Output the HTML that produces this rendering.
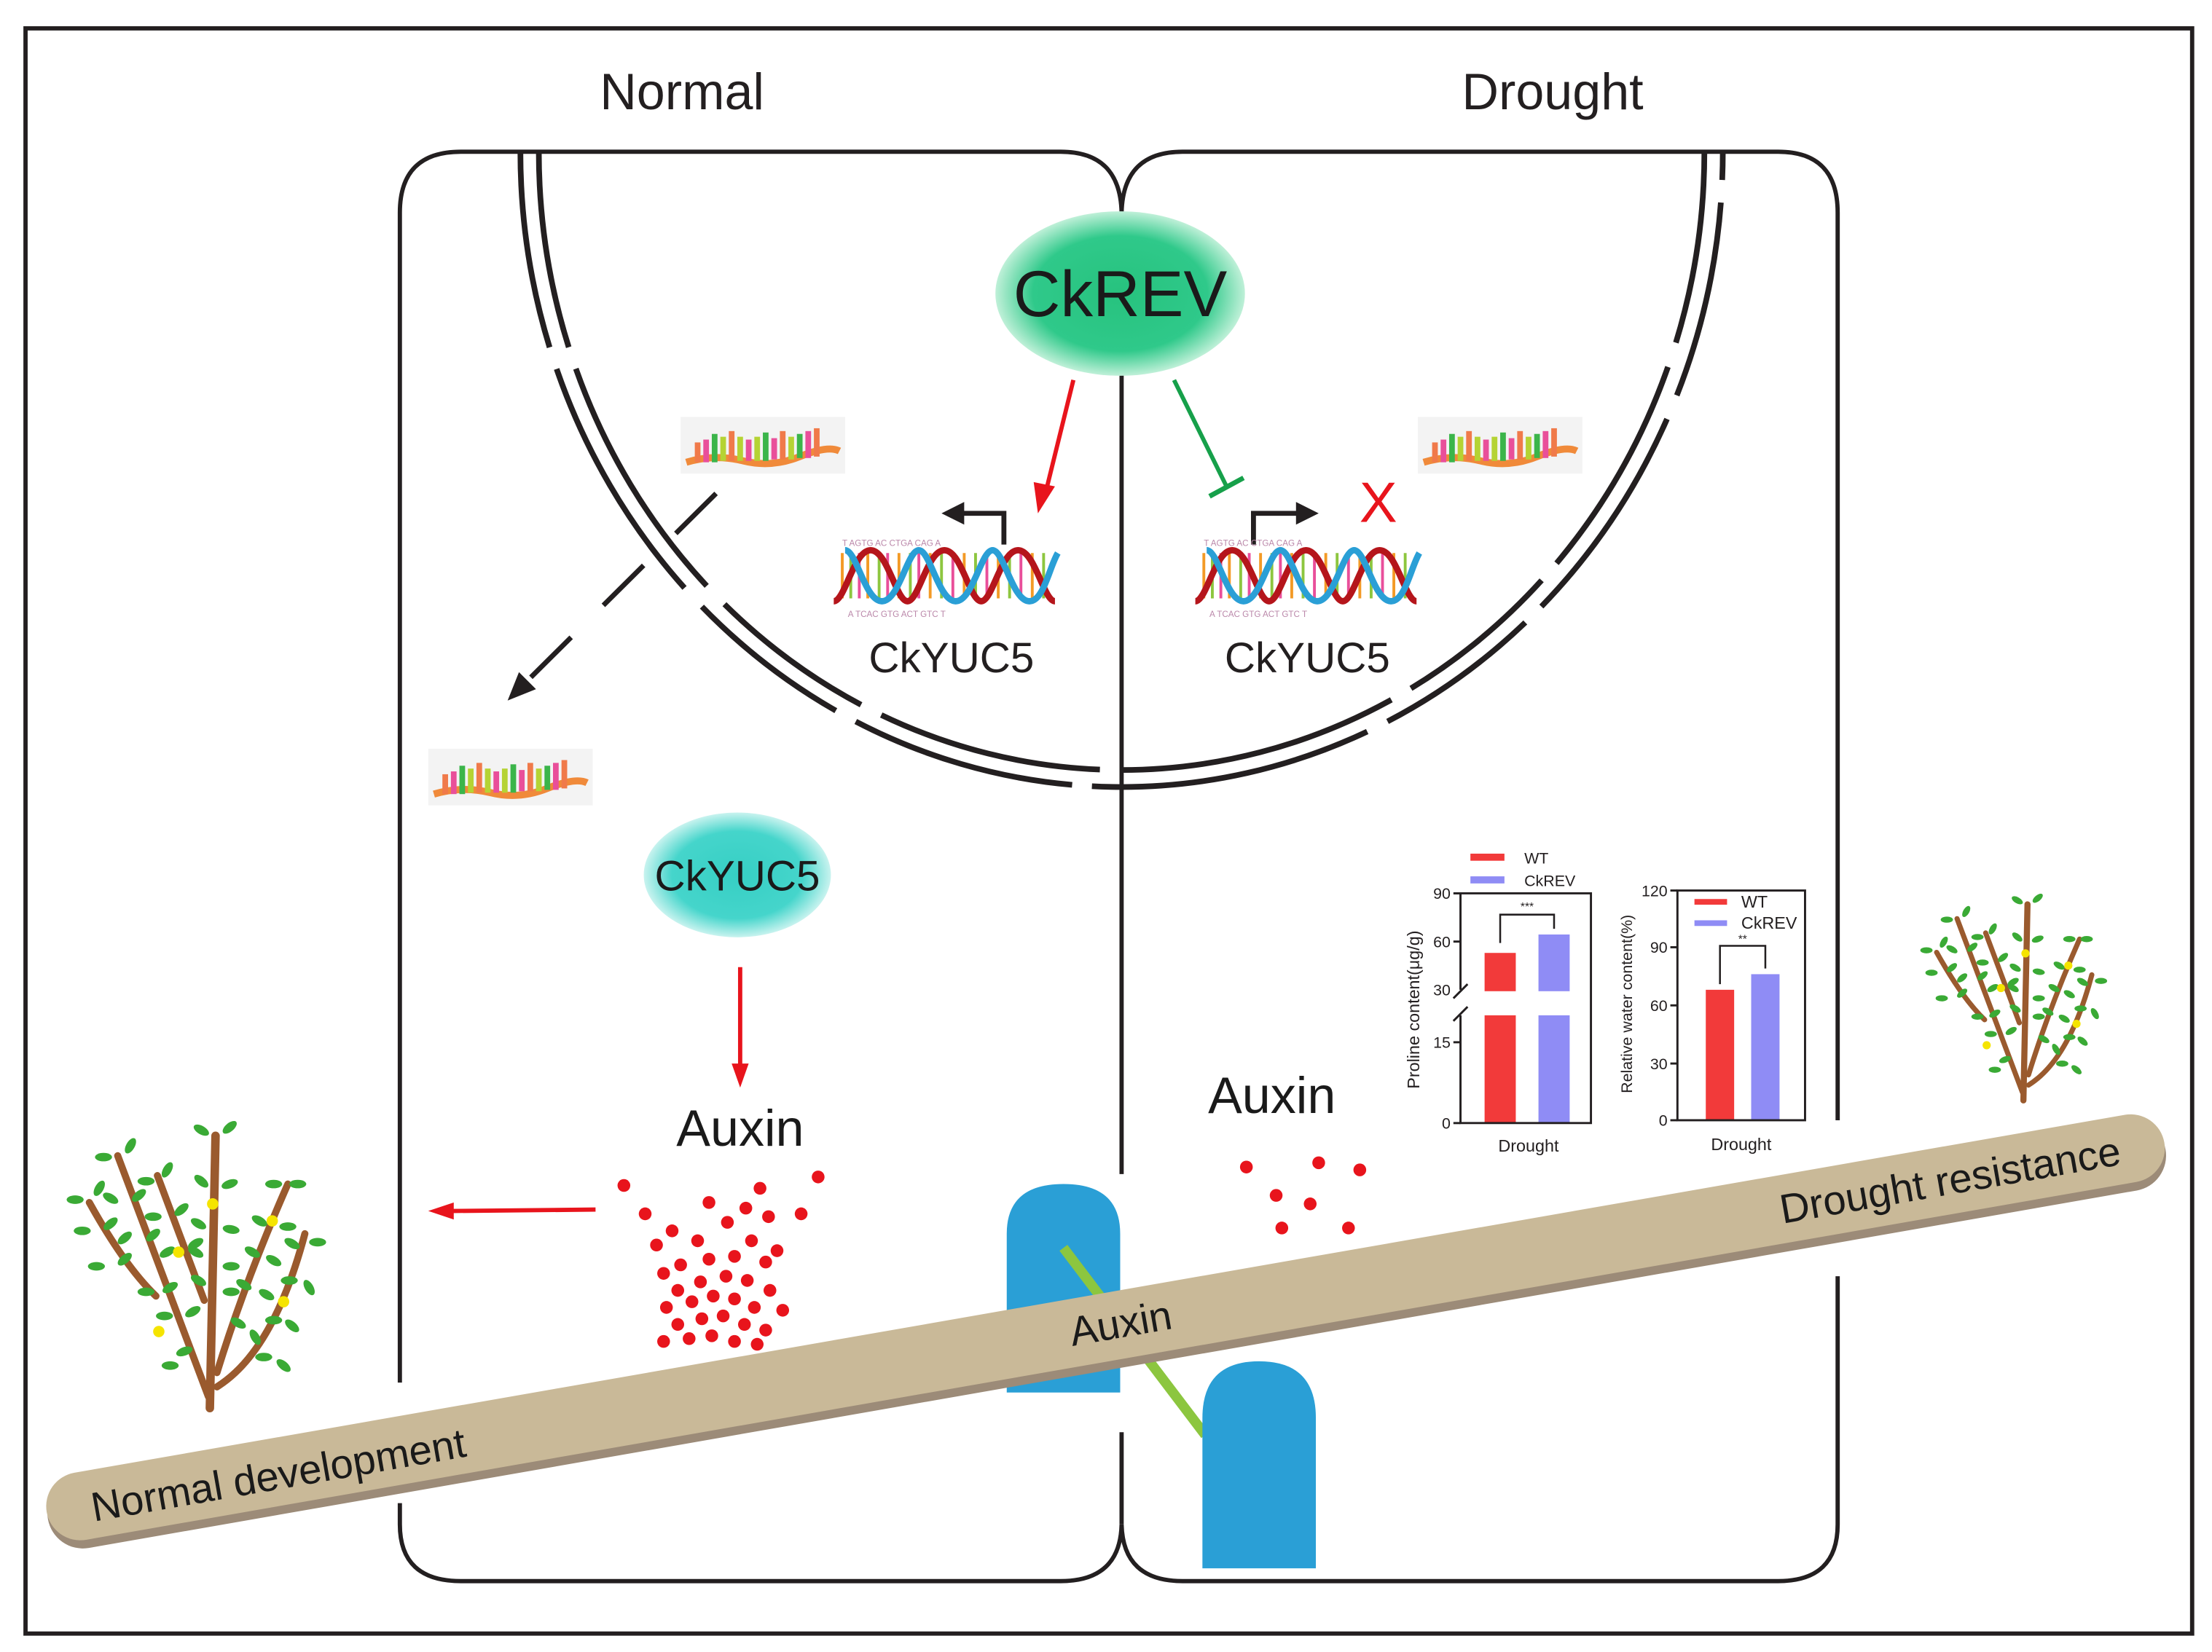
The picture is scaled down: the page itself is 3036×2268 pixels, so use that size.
<!DOCTYPE html>
<html><head><meta charset="utf-8"><style>
html,body{margin:0;padding:0;background:#fff;}
svg{display:block;}
text{font-family:"Liberation Sans",Arial,sans-serif;}
</style></head><body>
<svg width="3036" height="2268" viewBox="0 0 1560 1165" preserveAspectRatio="none" xmlns="http://www.w3.org/2000/svg">
<defs>
<radialGradient id="gREV" cx="50%" cy="50%" r="50%">
<stop offset="0%" stop-color="#27c27e"/><stop offset="70%" stop-color="#2fc98a"/><stop offset="100%" stop-color="#bff0d8"/>
</radialGradient>
<radialGradient id="gYUC" cx="50%" cy="50%" r="50%">
<stop offset="0%" stop-color="#36cfc4"/><stop offset="70%" stop-color="#45d5cb"/><stop offset="100%" stop-color="#c8f3ef"/>
</radialGradient>
<g id="mrna">
<rect x="-4" y="-6" width="116" height="40" fill="#f3f3f3"/>
<path d="M0,26 Q20,20 40,25 T80,22 T108,18" stroke="#f08a3a" stroke-width="5" fill="none"/>
<rect x="6" y="12" width="4" height="14" fill="#f07a4a"/><rect x="12" y="10" width="4" height="16" fill="#e94f9a"/>
<rect x="18" y="6" width="4" height="20" fill="#3bb54a"/><rect x="24" y="8" width="4" height="17" fill="#b5d334"/>
<rect x="30" y="4" width="4" height="21" fill="#f07a4a"/><rect x="36" y="8" width="4" height="17" fill="#b5d334"/>
<rect x="42" y="10" width="4" height="15" fill="#e94f9a"/><rect x="48" y="8" width="4" height="17" fill="#b5d334"/>
<rect x="54" y="5" width="4" height="20" fill="#3bb54a"/><rect x="60" y="9" width="4" height="15" fill="#e94f9a"/>
<rect x="66" y="4" width="4" height="20" fill="#f07a4a"/><rect x="72" y="8" width="4" height="16" fill="#b5d334"/>
<rect x="78" y="6" width="4" height="17" fill="#3bb54a"/><rect x="84" y="4" width="4" height="19" fill="#e94f9a"/>
<rect x="90" y="2" width="4" height="20" fill="#f07a4a"/>
</g>
<g id="dna">
<g stroke-width="2">
<line x1="6" y1="10" x2="6" y2="42" stroke="#f39a26"/><line x1="12" y1="10" x2="12" y2="42" stroke="#8dc63f"/>
<line x1="18" y1="10" x2="18" y2="42" stroke="#e94f9a"/><line x1="24" y1="10" x2="24" y2="42" stroke="#f39a26"/>
<line x1="32" y1="10" x2="32" y2="42" stroke="#8dc63f"/><line x1="38" y1="10" x2="38" y2="42" stroke="#e94f9a"/>
<line x1="46" y1="10" x2="46" y2="42" stroke="#f39a26"/><line x1="54" y1="10" x2="54" y2="42" stroke="#8dc63f"/>
<line x1="60" y1="10" x2="60" y2="42" stroke="#e94f9a"/><line x1="68" y1="10" x2="68" y2="42" stroke="#f39a26"/>
<line x1="76" y1="10" x2="76" y2="42" stroke="#8dc63f"/><line x1="84" y1="10" x2="84" y2="42" stroke="#e94f9a"/>
<line x1="92" y1="10" x2="92" y2="42" stroke="#f39a26"/><line x1="100" y1="10" x2="100" y2="42" stroke="#8dc63f"/>
<line x1="108" y1="10" x2="108" y2="42" stroke="#e94f9a"/><line x1="116" y1="10" x2="116" y2="42" stroke="#f39a26"/>
<line x1="124" y1="10" x2="124" y2="42" stroke="#8dc63f"/><line x1="132" y1="10" x2="132" y2="42" stroke="#e94f9a"/>
<line x1="140" y1="10" x2="140" y2="42" stroke="#f39a26"/><line x1="148" y1="10" x2="148" y2="42" stroke="#8dc63f"/>
</g>
<path d="M0,44 C8,44 14,8 26,8 C38,8 44,44 52,44 C60,44 66,8 78,8 C90,8 96,44 104,44 C112,44 118,8 130,8 C142,8 148,44 156,44" fill="none" stroke="#b5151b" stroke-width="4.5"/>
<path d="M8,8 C16,8 22,44 34,44 C46,44 52,8 60,8 C68,8 74,44 86,44 C98,44 104,8 112,8 C120,8 126,44 138,44 C148,44 152,20 158,10" fill="none" stroke="#2a9fd6" stroke-width="4.5"/>
<text x="6" y="5" font-size="6" fill="#b8a">T AGTG  AC CTGA  CAG A</text>
<text x="10" y="55" font-size="6" fill="#b8a">A TCAC GTG ACT GTC T</text>
</g>
<g id="tree">
<g stroke="#9a5a2e" stroke-linecap="round" fill="none">
<path d="M0,0 L4,-192" stroke-width="6"/>
<path d="M-1,-8 L-65,-178" stroke-width="5"/>
<path d="M-38,-79 Q-60,-100 -85,-145" stroke-width="5"/>
<path d="M-4,-76 L-37,-164" stroke-width="5"/>
<path d="M5,-25 Q25,-90 55,-158" stroke-width="5"/>
<path d="M5,-15 Q45,-40 67,-123" stroke-width="5"/>
</g>
<g fill="#3aaa35">
<ellipse cx="-6" cy="-196" rx="6" ry="3" transform="rotate(30 -6 -196)"/><ellipse cx="14" cy="-198" rx="6" ry="3" transform="rotate(-40 14 -198)"/>
<ellipse cx="-6" cy="-160" rx="6" ry="3" transform="rotate(40 -6 -160)"/><ellipse cx="14" cy="-158" rx="6" ry="3" transform="rotate(-20 14 -158)"/>
<ellipse cx="-8" cy="-130" rx="6" ry="3" transform="rotate(30 -8 -130)"/><ellipse cx="15" cy="-126" rx="6" ry="3" transform="rotate(10 15 -126)"/>
<ellipse cx="-10" cy="-110" rx="6" ry="3" transform="rotate(30 -10 -110)"/><ellipse cx="15" cy="-100" rx="6" ry="3"/>
<ellipse cx="-8" cy="-90" rx="6" ry="3" transform="rotate(30 -8 -90)"/><ellipse cx="15" cy="-82" rx="6" ry="3"/>
<ellipse cx="-75" cy="-177" rx="6" ry="3"/><ellipse cx="-56" cy="-185" rx="6" ry="3" transform="rotate(-60 -56 -185)"/>
<ellipse cx="-70" cy="-148" rx="6" ry="3" transform="rotate(30 -70 -148)"/><ellipse cx="-50" cy="-150" rx="6" ry="3" transform="rotate(-40 -50 -150)"/>
<ellipse cx="-60" cy="-120" rx="6" ry="3" transform="rotate(-40 -60 -120)"/><ellipse cx="-40" cy="-122" rx="6" ry="3" transform="rotate(-40 -40 -122)"/>
<ellipse cx="-45" cy="-160" rx="6" ry="3"/><ellipse cx="-30" cy="-168" rx="6" ry="3" transform="rotate(-60 -30 -168)"/>
<ellipse cx="-40" cy="-135" rx="6" ry="3"/><ellipse cx="-20" cy="-140" rx="6" ry="3" transform="rotate(-40 -20 -140)"/>
<ellipse cx="-30" cy="-110" rx="6" ry="3" transform="rotate(-30 -30 -110)"/><ellipse cx="-10" cy="-116" rx="6" ry="3" transform="rotate(-30 -10 -116)"/>
<ellipse cx="-95" cy="-147" rx="6" ry="3"/><ellipse cx="-78" cy="-155" rx="6" ry="3" transform="rotate(-60 -78 -155)"/>
<ellipse cx="-90" cy="-125" rx="6" ry="3"/><ellipse cx="-70" cy="-130" rx="6" ry="3" transform="rotate(-40 -70 -130)"/>
<ellipse cx="-80" cy="-100" rx="6" ry="3"/><ellipse cx="-60" cy="-105" rx="6" ry="3" transform="rotate(-40 -60 -105)"/>
<ellipse cx="-45" cy="-82" rx="6" ry="3"/><ellipse cx="-28" cy="-85" rx="6" ry="3" transform="rotate(-30 -28 -85)"/>
<ellipse cx="-32" cy="-65" rx="6" ry="3"/><ellipse cx="-12" cy="-68" rx="6" ry="3" transform="rotate(-30 -12 -68)"/>
<ellipse cx="-18" cy="-40" rx="6" ry="3" transform="rotate(-20 -18 -40)"/><ellipse cx="-28" cy="-30" rx="6" ry="3"/>
<ellipse cx="45" cy="-158" rx="6" ry="3"/><ellipse cx="62" cy="-158" rx="6" ry="3"/>
<ellipse cx="35" cy="-132" rx="6" ry="3" transform="rotate(30 35 -132)"/><ellipse cx="55" cy="-128" rx="6" ry="3"/>
<ellipse cx="30" cy="-110" rx="6" ry="3" transform="rotate(30 30 -110)"/><ellipse cx="45" cy="-104" rx="6" ry="3" transform="rotate(30 45 -104)"/>
<ellipse cx="24" cy="-87" rx="6" ry="3" transform="rotate(30 24 -87)"/><ellipse cx="40" cy="-80" rx="6" ry="3" transform="rotate(30 40 -80)"/>
<ellipse cx="20" cy="-60" rx="6" ry="3" transform="rotate(30 20 -60)"/><ellipse cx="32" cy="-50" rx="6" ry="3" transform="rotate(60 32 -50)"/>
<ellipse cx="58" cy="-116" rx="6" ry="3" transform="rotate(30 58 -116)"/><ellipse cx="76" cy="-117" rx="6" ry="3"/>
<ellipse cx="56" cy="-90" rx="6" ry="3"/><ellipse cx="70" cy="-85" rx="6" ry="3" transform="rotate(60 70 -85)"/>
<ellipse cx="45" cy="-62" rx="6" ry="3"/><ellipse cx="58" cy="-58" rx="6" ry="3" transform="rotate(40 58 -58)"/>
<ellipse cx="38" cy="-36" rx="6" ry="3"/><ellipse cx="52" cy="-30" rx="6" ry="3" transform="rotate(40 52 -30)"/>
</g>
<g fill="#f5e400">
<circle cx="2" cy="-144" r="4"/><circle cx="-22" cy="-110" r="4"/><circle cx="-36" cy="-54" r="4"/><circle cx="44" cy="-132" r="4"/><circle cx="52" cy="-75" r="4"/>
</g>
</g>
</defs>

<rect x="0" y="0" width="1560" height="1165" fill="#fff"/>
<rect x="18" y="20" width="1528" height="1132" fill="none" stroke="#231f20" stroke-width="3"/>

<text x="481" y="77" font-size="36" text-anchor="middle" fill="#231f20">Normal</text>
<text x="1095" y="77" font-size="36" text-anchor="middle" fill="#231f20">Drought</text>

<g fill="none" stroke="#231f20" stroke-width="3">
<path d="M282,975 V150 Q282,107 325,107 H748 Q790,107 791,150 Q792,107 834,107 H1254 Q1296,107 1296,150 V790"/>
<path d="M1296,900 V1075 Q1296,1115 1254,1115 H834 Q792,1115 791,1075 Q790,1115 748,1115 H325 Q282,1115 282,1075 V1060"/>
<line x1="791" y1="150" x2="791" y2="828"/>
<line x1="791" y1="1010" x2="791" y2="1075"/>
</g>

<g fill="none" stroke="#231f20" stroke-width="4">
<path d="M367,107 A424 448 0 0 0 1215,107" stroke-dasharray="140 16 180 18 120 16 160 14 200 16 120 16 160 18 140 16 200 16"/>
<path d="M380,107 A411 436 0 0 0 1202,107" stroke-dasharray="140 16 180 18 120 16 160 14 200 16 120 16 160 18 140 16 200 16"/>
</g>

<ellipse cx="790" cy="207" rx="88" ry="58" fill="url(#gREV)"/>
<text x="790" y="223" font-size="46" text-anchor="middle" fill="#1a1a1a">CkREV</text>

<line x1="757" y1="268" x2="738" y2="345" stroke="#e8141c" stroke-width="3"/>
<polygon points="732,362 729,340 744,343" fill="#e8141c"/>
<line x1="828" y1="268" x2="865" y2="343" stroke="#16a04a" stroke-width="3"/>
<line x1="853" y1="350" x2="877" y2="337" stroke="#16a04a" stroke-width="3.5"/>

<path d="M708,384 V362 H676" fill="none" stroke="#231f20" stroke-width="3.5"/>
<polygon points="664,362 680,354 680,370" fill="#231f20"/>
<path d="M884,384 V362 H918" fill="none" stroke="#231f20" stroke-width="3.5"/>
<polygon points="930,362 914,354 914,370" fill="#231f20"/>
<text x="972" y="368" font-size="40" text-anchor="middle" fill="#e8141c">X</text>

<use href="#dna" x="588" y="380"/>
<use href="#dna" x="843" y="380"/>
<text x="671" y="474" font-size="30" text-anchor="middle" fill="#231f20">CkYUC5</text>
<text x="922" y="474" font-size="30" text-anchor="middle" fill="#231f20">CkYUC5</text>

<use href="#mrna" x="484" y="300"/>
<use href="#mrna" x="1004" y="300"/>
<use href="#mrna" x="306" y="534"/>

<line x1="505" y1="348" x2="370" y2="482" stroke="#231f20" stroke-width="3.5" stroke-dasharray="40 32"/>
<polygon points="358,494 366,474 378,486" fill="#231f20"/>

<ellipse cx="520" cy="617" rx="66" ry="44" fill="url(#gYUC)"/>
<text x="520" y="628" font-size="30" text-anchor="middle" fill="#1a1a1a">CkYUC5</text>

<line x1="522" y1="682" x2="522" y2="752" stroke="#e8141c" stroke-width="3"/>
<polygon points="522,767 516,750 528,750" fill="#e8141c"/>
<text x="522" y="808" font-size="36" text-anchor="middle" fill="#1a1a1a">Auxin</text>
<text x="897" y="785" font-size="36" text-anchor="middle" fill="#1a1a1a">Auxin</text>

<line x1="420" y1="853" x2="318" y2="854" stroke="#e8141c" stroke-width="3"/>
<polygon points="302,854 320,848 320,860" fill="#e8141c"/>

<g fill="#e8141c">
<circle cx="440" cy="836" r="4.5"/><circle cx="536" cy="838" r="4.5"/><circle cx="577" cy="830" r="4.5"/>
<circle cx="455" cy="856" r="4.5"/><circle cx="474" cy="868" r="4.5"/><circle cx="500" cy="848" r="4.5"/><circle cx="526" cy="852" r="4.5"/><circle cx="542" cy="858" r="4.5"/><circle cx="565" cy="856" r="4.5"/>
<circle cx="463" cy="878" r="4.5"/><circle cx="492" cy="875" r="4.5"/><circle cx="513" cy="862" r="4.5"/><circle cx="530" cy="875" r="4.5"/><circle cx="548" cy="882" r="4.5"/>
<circle cx="480" cy="892" r="4.5"/><circle cx="500" cy="888" r="4.5"/><circle cx="518" cy="886" r="4.5"/><circle cx="540" cy="890" r="4.5"/><circle cx="468" cy="898" r="4.5"/>
<circle cx="478" cy="910" r="4.5"/><circle cx="494" cy="904" r="4.5"/><circle cx="512" cy="900" r="4.5"/><circle cx="527" cy="903" r="4.5"/><circle cx="543" cy="910" r="4.5"/>
<circle cx="470" cy="922" r="4.5"/><circle cx="488" cy="918" r="4.5"/><circle cx="503" cy="914" r="4.5"/><circle cx="518" cy="916" r="4.5"/><circle cx="532" cy="922" r="4.5"/><circle cx="552" cy="924" r="4.5"/>
<circle cx="478" cy="934" r="4.5"/><circle cx="495" cy="930" r="4.5"/><circle cx="510" cy="928" r="4.5"/><circle cx="525" cy="934" r="4.5"/><circle cx="540" cy="938" r="4.5"/>
<circle cx="468" cy="946" r="4.5"/><circle cx="486" cy="944" r="4.5"/><circle cx="502" cy="942" r="4.5"/><circle cx="518" cy="946" r="4.5"/><circle cx="534" cy="948" r="4.5"/>
<circle cx="879" cy="823" r="4.5"/><circle cx="930" cy="820" r="4.5"/><circle cx="959" cy="825" r="4.5"/>
<circle cx="900" cy="843" r="4.5"/><circle cx="924" cy="849" r="4.5"/><circle cx="904" cy="866" r="4.5"/><circle cx="951" cy="866" r="4.5"/>
</g>

<path d="M710,982 V870 Q710,835 750,835 Q790,835 790,870 V982 Z" fill="#2a9fd6"/>
<line x1="750" y1="880" x2="850" y2="1012" stroke="#8cc63f" stroke-width="7"/>
<path d="M848,1106 V1000 Q848,960 888,960 Q928,960 928,1000 V1106 Z" fill="#2a9fd6"/>

<g transform="translate(780,938) rotate(-9.9)">
<rect x="-758" y="-22" width="1516" height="50" rx="25" fill="#9c8b78"/>
<rect x="-758" y="-26" width="1516" height="48" rx="24" fill="#c9b998"/>
</g>
<text transform="translate(198,1050) rotate(-9.9)" font-size="29" text-anchor="middle" fill="#1a1a1a">Normal development</text>
<text transform="translate(792,943) rotate(-9.9)" font-size="29" text-anchor="middle" fill="#1a1a1a">Auxin</text>
<text transform="translate(1377,842) rotate(-9.9)" font-size="29" text-anchor="middle" fill="#1a1a1a">Drought resistance</text>

<use href="#tree" transform="translate(148,993)"/>
<use href="#tree" transform="translate(1427,776) scale(0.72)"/>

<g font-size="11" fill="#231f20">
<rect x="1037" y="602" width="24" height="5" fill="#f23a3a"/><text x="1075" y="609">WT</text>
<rect x="1037" y="618" width="24" height="5" fill="#8f8cf5"/><text x="1075" y="625">CkREV</text>
<rect x="1047" y="672" width="22" height="27" fill="#f23a3a"/><rect x="1047" y="716" width="22" height="76" fill="#f23a3a"/>
<rect x="1085" y="659" width="22" height="40" fill="#8f8cf5"/><rect x="1085" y="716" width="22" height="76" fill="#8f8cf5"/>
<path d="M1030,698 V630 H1122 V792 H1030 V716" fill="none" stroke="#231f20" stroke-width="1.5"/>
<line x1="1025" y1="704" x2="1035" y2="694" stroke="#231f20" stroke-width="1.5"/>
<line x1="1025" y1="720" x2="1035" y2="710" stroke="#231f20" stroke-width="1.5"/>
<g stroke="#231f20" stroke-width="1.5"><line x1="1025" y1="630" x2="1030" y2="630"/><line x1="1025" y1="664" x2="1030" y2="664"/><line x1="1025" y1="735" x2="1030" y2="735"/><line x1="1025" y1="792" x2="1030" y2="792"/></g>
<text x="1023" y="634" text-anchor="end">90</text><text x="1023" y="668" text-anchor="end">60</text><text x="1023" y="702" text-anchor="end">30</text><text x="1023" y="739" text-anchor="end">15</text><text x="1023" y="796" text-anchor="end">0</text>
<path d="M1058,665 V645 H1096 V655" fill="none" stroke="#231f20" stroke-width="1.3"/>
<text x="1077" y="642" text-anchor="middle" font-size="8">***</text>
<text x="1078" y="812" text-anchor="middle" font-size="12">Drought</text>
<text transform="translate(1001,712) rotate(-90)" text-anchor="middle" font-size="12">Proline content(μg/g)</text>
</g>

<g font-size="11" fill="#231f20">
<rect x="1203" y="698" width="20" height="92" fill="#f23a3a"/>
<rect x="1235" y="687" width="20" height="103" fill="#8f8cf5"/>
<rect x="1183" y="628" width="90" height="162" fill="none" stroke="#231f20" stroke-width="1.5"/>
<g stroke="#231f20" stroke-width="1.5"><line x1="1178" y1="628" x2="1183" y2="628"/><line x1="1178" y1="668" x2="1183" y2="668"/><line x1="1178" y1="709" x2="1183" y2="709"/><line x1="1178" y1="750" x2="1183" y2="750"/><line x1="1178" y1="790" x2="1183" y2="790"/></g>
<text x="1176" y="632" text-anchor="end">120</text><text x="1176" y="672" text-anchor="end">90</text><text x="1176" y="713" text-anchor="end">60</text><text x="1176" y="754" text-anchor="end">30</text><text x="1176" y="794" text-anchor="end">0</text>
<rect x="1195" y="634" width="23" height="4" fill="#f23a3a"/><text x="1228" y="640" font-size="12">WT</text>
<rect x="1195" y="649" width="23" height="4" fill="#8f8cf5"/><text x="1228" y="655" font-size="12">CkREV</text>
<path d="M1213,694 V667 H1245 V683" fill="none" stroke="#231f20" stroke-width="1.3"/>
<text x="1229" y="665" text-anchor="middle" font-size="8">**</text>
<text x="1228" y="811" text-anchor="middle" font-size="12">Drought</text>
<text transform="translate(1151,708) rotate(-90)" text-anchor="middle" font-size="11">Relative water content(%)</text>
</g>
</svg>
</body></html>
